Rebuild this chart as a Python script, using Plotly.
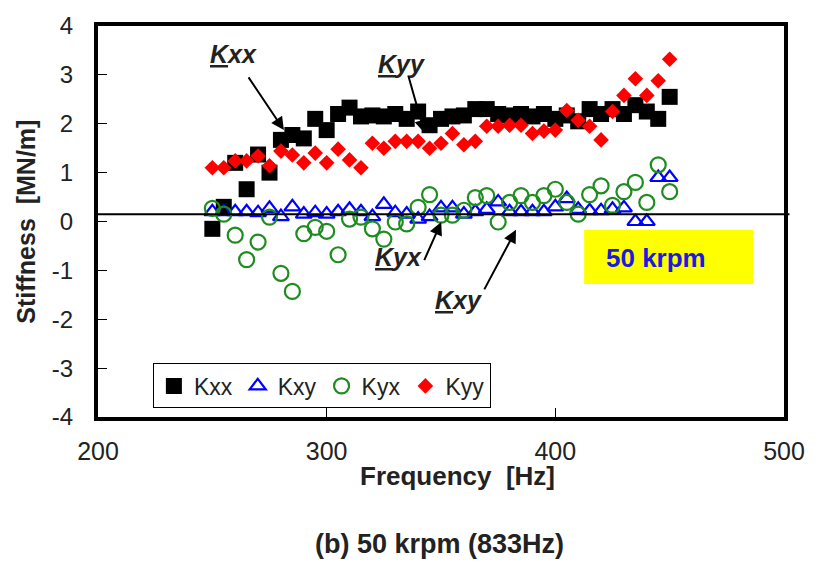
import plotly.graph_objects as go

freq = list(range(250, 455, 5))
kxx = [-0.15, 0.3, 1.2, 0.66, 1.37, 1.0, 1.67, 1.77, 1.7, 2.1, 1.87, 2.2, 2.33, 2.15,
       2.17, 2.15, 2.2, 2.1, 2.25, 1.97, 2.1, 2.15, 2.17, 2.3, 2.3, 2.2, 2.17, 2.2,
       2.15, 2.2, 2.1, 2.17, 2.05, 2.3, 2.2, 2.3, 2.2, 2.38, 2.25, 2.1, 2.55]
kxy = [0.2, 0.2, 0.2, 0.2, 0.18, 0.27, 0.1, 0.3, 0.15, 0.18, 0.15, 0.2, 0.25, 0.2,
       0.1, 0.35, 0.18, 0.15, 0.05, 0.1, 0.28, 0.28, 0.15, 0.2, 0.25, 0.4, 0.2, 0.2,
       0.2, 0.2, 0.3, 0.47, 0.25, 0.22, 0.22, 0.25, 0.28, 0.0, 0.0, 0.9, 0.9]
kyx = [0.27, 0.15, -0.28, -0.78, -0.42, 0.09, -1.06, -1.43, -0.25, -0.12, -0.2, -0.68,
       0.05, 0.09, -0.15, -0.36, -0.01, -0.05, 0.29, 0.55, 0.13, 0.13, 0.23, 0.49, 0.53,
       -0.01, 0.39, 0.53, 0.39, 0.53, 0.66, 0.39, 0.15, 0.55, 0.73, 0.33, 0.61, 0.8,
       0.39, 1.16, 0.61]
kyy = [1.1, 1.1, 1.24, 1.24, 1.34, 1.14, 1.44, 1.36, 1.2, 1.4, 1.2, 1.48, 1.26, 1.1,
       1.6, 1.5, 1.64, 1.64, 1.64, 1.5, 1.6, 1.8, 1.57, 1.64, 1.95, 1.95, 1.97, 1.97,
       1.8, 1.85, 1.87, 2.27, 2.07, 1.95, 1.67, 2.25, 2.58, 2.92, 2.58, 2.88, 3.32]

x_ticks = [200, 300, 400, 500]
y_ticks = [-4, -3, -2, -1, 0, 1, 2, 3, 4]
y_tick_labels = ["-4", "-3", "-2", "-1", "0", "1", "2", "3", "4"]
zero_line_y = 0.15

FONT = "Liberation Sans, Arial, sans-serif"
TXT = "#222222"

fig = go.Figure()
fig.add_trace(go.Scatter(x=freq, y=kxx, mode="markers", name="Kxx",
                         marker=dict(symbol="square", size=16, color="black")))
fig.add_trace(go.Scatter(x=freq, y=kxy, mode="markers", name="Kxy",
                         marker=dict(symbol="triangle-up-open", size=14, color="#0000FF",
                                     line=dict(width=2.2, color="#0000FF"))))
fig.add_trace(go.Scatter(x=freq, y=kyx, mode="markers", name="Kyx",
                         marker=dict(symbol="circle-open", size=15, color="#1E8C1E",
                                     line=dict(width=2.2, color="#1E8C1E"))))
fig.add_trace(go.Scatter(x=freq, y=kyy, mode="markers", name="Kyy",
                         marker=dict(symbol="diamond", size=12, color="#FF0000")))

# horizontal reference line
fig.add_shape(type="line", xref="paper", yref="y", x0=0, x1=1.008,
              y0=zero_line_y, y1=zero_line_y, line=dict(color="black", width=2),
              layer="above")

# yellow label box
fig.add_shape(type="rect", xref="x", yref="y", x0=412.6, x1=486.7, y0=-1.28, y1=-0.17,
              fillcolor="#FFFF00", line=dict(width=0), layer="above")
fig.add_annotation(x=444, y=-0.74, xref="x", yref="y", text="<b>50 krpm</b>",
                   showarrow=False, font=dict(family=FONT, size=26, color="#1A1AE0"))

# labels with arrows
labels = [("<b><i><u>K</u>xx</i></b>", 259.4, 3.42),
          ("<b><i><u>K</u>yy</i></b>", 332.9, 3.22),
          ("<b><i><u>K</u>yx</i></b>", 331.6, -0.72),
          ("<b><i><u>K</u>xy</i></b>", 357.8, -1.6)]
for t, lx, ly in labels:
    fig.add_annotation(x=lx, y=ly, xref="x", yref="y", text=t, showarrow=False,
                       font=dict(family=FONT, size=25, color=TXT))

arrows = [((265.4, 2.98), (281.3, 1.87)),
          ((335.5, 3.02), (342.8, 1.81)),
          ((342.4, -0.82), (350.1, -0.01)),
          ((368.6, -1.42), (382.8, -0.17))]
for (tx, ty), (hx, hy) in arrows:
    fig.add_annotation(x=hx, y=hy, ax=tx, ay=ty, xref="x", yref="y", axref="x", ayref="y",
                       text="", showarrow=True, arrowhead=2, arrowsize=1.3,
                       arrowwidth=2, arrowcolor="black")

# axis titles and caption
fig.add_annotation(x=0.524, y=-0.152, xref="paper", yref="paper",
                   xanchor="center", yanchor="middle",
                   text="<b>Frequency  [Hz]</b>", showarrow=False,
                   font=dict(family=FONT, size=26, color=TXT))
fig.add_annotation(x=-0.106, y=0.5, xref="paper", yref="paper",
                   xanchor="center", yanchor="middle",
                   text="<b>Stiffness  [MN/m]</b>", showarrow=False, textangle=-90,
                   font=dict(family=FONT, size=25, color=TXT))
fig.add_annotation(x=0.498, y=-0.324, xref="paper", yref="paper",
                   xanchor="center", yanchor="middle",
                   text="<b>(b) 50 krpm (833Hz)</b>", showarrow=False,
                   font=dict(family=FONT, size=27, color=TXT))

fig.update_layout(
    width=817, height=561,
    margin=dict(l=98, r=22, t=22, b=144),
    plot_bgcolor="white", paper_bgcolor="white",
    font=dict(family=FONT, color=TXT),
    showlegend=True,
    legend=dict(orientation="h", x=0.08, y=0.137, xanchor="left", yanchor="top",
                bgcolor="white", bordercolor="black", borderwidth=1,
                font=dict(family=FONT, size=23, color=TXT),
                itemwidth=30, tracegroupgap=0),
)
fig.update_xaxes(range=[200, 500], tickvals=x_ticks, ticks="inside", ticklen=9,
                 tickcolor="black", tickwidth=1, showline=True, linecolor="black",
                 linewidth=4, mirror=True, showgrid=False, zeroline=False,
                 tickfont=dict(family=FONT, size=25, color=TXT),
                 ticklabelstandoff=9)
fig.update_yaxes(range=[-4, 4], tickvals=y_ticks, ticktext=y_tick_labels,
                 ticks="inside", ticklen=9,
                 tickcolor="black", tickwidth=1, showline=True, linecolor="black",
                 linewidth=4, mirror=True, showgrid=False, zeroline=False,
                 tickfont=dict(family=FONT, size=24, color=TXT),
                 ticklabelstandoff=16)

fig.write_html("out.html")
